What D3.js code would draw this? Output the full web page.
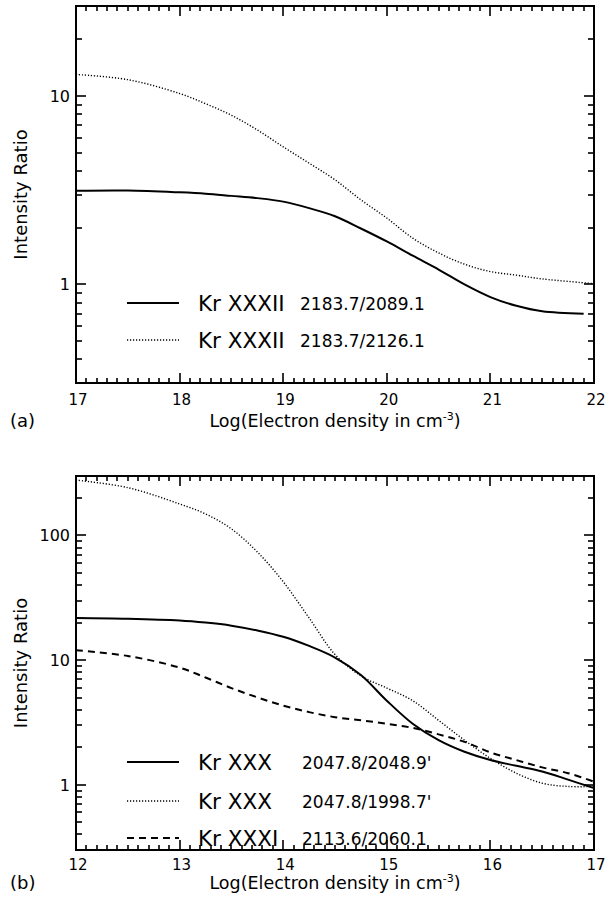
<!DOCTYPE html>
<html><head><meta charset="utf-8">
<script src="https://cdn.jsdelivr.net/npm/d3@7"></script>
<style>body{margin:0;background:#fff}svg{display:block}text{font-family:"DejaVu Sans",sans-serif;fill:#000}</style>
</head><body><svg id="c" width="611" height="908"></svg>
<script>
// ---- data ----
const xA = [17, 17.5, 18, 18.25, 18.5, 18.75, 19, 19.25, 19.5, 19.75, 20, 20.25, 20.5, 20.75, 21, 21.25, 21.5, 21.9];
const aSolid = [3.14, 3.15, 3.08, 3.03, 2.95, 2.87, 2.75, 2.54, 2.30, 1.98, 1.69, 1.42, 1.20, 1.00, 0.857, 0.77, 0.72, 0.70];
const xA2 = [17, 17.5, 18, 18.25, 18.5, 18.75, 19, 19.25, 19.5, 19.75, 20, 20.25, 20.5, 20.75, 21, 21.25, 21.5, 22];
const aDot = [13.0, 12.2, 10.3, 9.1, 7.9, 6.6, 5.37, 4.4, 3.59, 2.81, 2.25, 1.76, 1.47, 1.28, 1.17, 1.12, 1.07, 1.01];
const xB = [12, 12.5, 13, 13.25, 13.5, 13.75, 14, 14.25, 14.5, 14.75, 15, 15.25, 15.5, 15.75, 16, 16.25, 16.5, 16.75, 17];
const bSolid = [21.8, 21.5, 20.8, 20.0, 18.9, 17.3, 15.4, 13.0, 10.5, 7.6, 4.73, 3.09, 2.28, 1.84, 1.58, 1.42, 1.28, 1.10, 0.94];
const bDot = [278, 242, 179, 149, 113, 73.8, 42.6, 21.8, 11.1, 7.48, 5.97, 4.73, 3.29, 2.28, 1.63, 1.24, 1.03, 0.97, 0.97];
const bDash = [12.0, 10.8, 8.71, 7.26, 5.97, 5.03, 4.32, 3.83, 3.49, 3.29, 3.09, 2.86, 2.54, 2.21, 1.82, 1.58, 1.38, 1.24, 1.06];
const xTicksA = [17, 18, 19, 20, 21, 22];
const xTicksB = [12, 13, 14, 15, 16, 17];
const yTicksA = [1, 10];
const yTicksB = [1, 10, 100];
const legendA = [
  {ion: "Kr XXXII", ratio: "2183.7/2089.1", style: "solid"},
  {ion: "Kr XXXII", ratio: "2183.7/2126.1", style: "dot"}
];
const legendB = [
  {ion: "Kr XXX", ratio: "2047.8/2048.9'", style: "solid"},
  {ion: "Kr XXX", ratio: "2047.8/1998.7'", style: "dot"},
  {ion: "Kr XXXI", ratio: "2113.6/2060.1", style: "dash"}
];

const svg = d3.select("#c");
const L = 76, R = 594;
const styles = {
  solid: {w: 2, dash: null},
  dot: {w: 1.4, dash: "1.2,1.8"},
  dash: {w: 2, dash: "7,5"}
};

function panel(o) {
  const x = d3.scaleLinear().domain(o.xd).range([L, R]);
  const y = d3.scaleLog().domain(o.yd).range([o.bot, o.top]);
  const g = svg.append("g");
  const xMinor = d3.range(Math.round(o.xd[0] * 10), Math.round(o.xd[1] * 10) + 1).map(v => v / 10);
  const yMinor = [];
  for (let e = -1; e <= 3; e++) for (let m = 1; m <= 9; m++) {
    const v = m * Math.pow(10, e);
    if (v >= o.yd[0] * 0.999 && v <= o.yd[1] * 1.001) yMinor.push(v);
  }
  const isMajX = v => o.xt.some(t => Math.abs(t - v) < 1e-6);
  const isMajY = v => o.yt.some(t => Math.abs(t - v) < 1e-6);
  g.append("rect").attr("x", L).attr("y", o.top).attr("width", R - L).attr("height", o.bot - o.top)
    .attr("fill", "none").attr("stroke", "#000").attr("stroke-width", 2);
  // inward tick marks on all four sides
  const tg = g.append("g").attr("fill", "#000");
  const tw = 1.6;
  xMinor.forEach(v => {
    const len = isMajX(v) ? 10 : 5, px = Math.round(x(v));
    tg.append("rect").attr("x", px - tw / 2).attr("y", o.bot - len).attr("width", tw).attr("height", len);
    tg.append("rect").attr("x", px - tw / 2).attr("y", o.top).attr("width", tw).attr("height", len);
  });
  yMinor.forEach(v => {
    const len = isMajY(v) ? 10 : 6, py = Math.round(y(v));
    tg.append("rect").attr("x", L).attr("y", py - tw / 2).attr("width", len).attr("height", tw);
    tg.append("rect").attr("x", R - len).attr("y", py - tw / 2).attr("width", len).attr("height", tw);
  });
  // tick labels
  g.selectAll(".xl").data(o.xt).enter().append("text")
    .attr("x", d => x(d) + 2).attr("y", o.bot + o.lab).attr("text-anchor", "middle")
    .attr("font-size", 15).text(d => d);
  g.selectAll(".yl").data(o.yt).enter().append("text")
    .attr("x", L - 6).attr("y", d => y(d) + 6).attr("text-anchor", "end")
    .attr("font-size", 16).text(d => d);
  // axis titles
  const t = g.append("text").attr("x", (L + R) / 2).attr("y", o.bot + o.tit).attr("text-anchor", "middle").attr("font-size", 17.5);
  t.append("tspan").text("Log(Electron density in cm");
  t.append("tspan").attr("font-size", 11).attr("dy", -7).text("-3");
  t.append("tspan").attr("dy", 7).text(")");
  g.append("text").attr("x", 10).attr("y", o.bot + o.tit).attr("font-size", 18).text(o.tag);
  g.append("text").attr("transform", `translate(27,${(o.top + o.bot) / 2}) rotate(-90)`)
    .attr("text-anchor", "middle").attr("font-size", 18).text("Intensity Ratio");
  // curves
  const clip = "clip" + o.tag.replace(/\W/g, "");
  svg.append("defs").append("clipPath").attr("id", clip).append("rect")
    .attr("x", L).attr("y", o.top).attr("width", R - L).attr("height", o.bot - o.top);
  const line = d3.line().x(d => x(d[0])).y(d => y(d[1])).curve(d3.curveCatmullRom.alpha(0.5));
  o.series.forEach(s => {
    const st = styles[s.style];
    g.append("path").attr("clip-path", `url(#${clip})`).attr("d", line(s.xs.map((v, i) => [v, s.ys[i]])))
      .attr("fill", "none").attr("stroke", "#000").attr("stroke-width", st.w)
      .attr("stroke-dasharray", st.dash);
  });
  // legend
  o.legend.forEach((d, i) => {
    const ly = o.legY[i];
    const st = styles[d.style];
    g.append("line").attr("x1", 127).attr("x2", 179).attr("y1", ly).attr("y2", ly)
      .attr("stroke", "#000").attr("stroke-width", st.w).attr("stroke-dasharray", st.dash);
    g.append("text").attr("x", 198).attr("y", ly + 8).attr("font-size", 21.5).text(d.ion);
    g.append("text").attr("x", o.numX).attr("y", ly + 7).attr("font-size", 17).text(d.ratio);
  });
}

panel({xd: [17, 22], yd: [0.3, 30], top: 6, bot: 383, xt: xTicksA, yt: yTicksA, tag: "(a)", lab: 22, tit: 44,
  series: [{xs: xA, ys: aSolid, style: "solid"}, {xs: xA2, ys: aDot, style: "dot"}],
  legend: legendA, legY: [303, 340], numX: 300});
panel({xd: [12, 17], yd: [0.3, 300], top: 476, bot: 850, xt: xTicksB, yt: yTicksB, tag: "(b)", lab: 20, tit: 39,
  series: [{xs: xB, ys: bSolid, style: "solid"}, {xs: xB, ys: bDot, style: "dot"}, {xs: xB, ys: bDash, style: "dash"}],
  legend: legendB, legY: [762, 801, 838], numX: 302});
</script></body></html>
